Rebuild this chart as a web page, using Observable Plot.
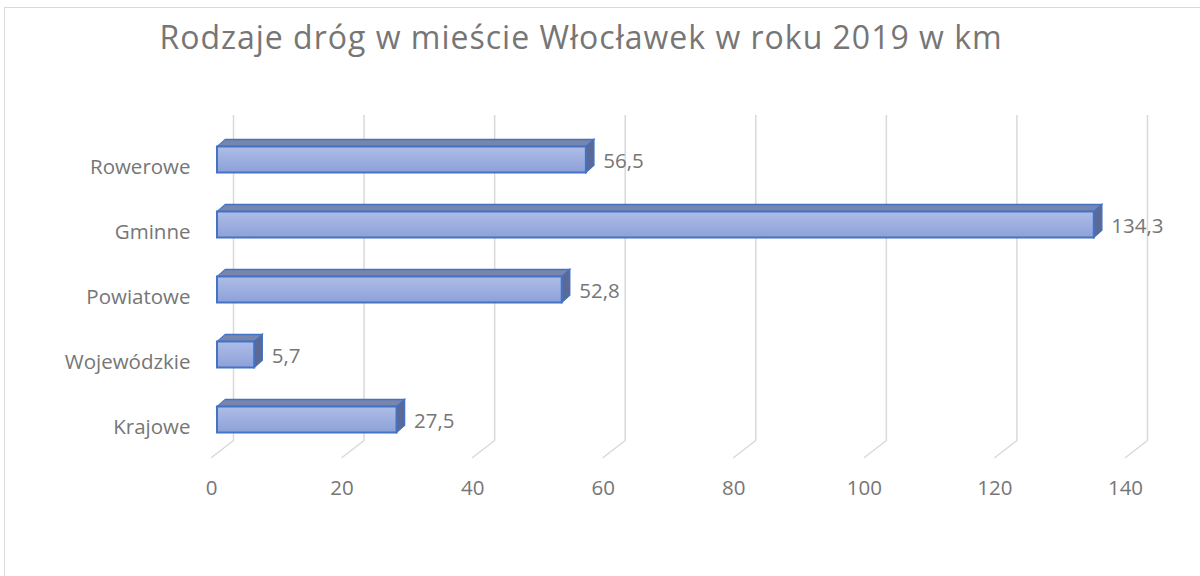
<!DOCTYPE html>
<html><head><meta charset="utf-8">
<script src="https://cdn.jsdelivr.net/npm/d3@7"></script>
<script src="https://cdn.jsdelivr.net/npm/@observablehq/plot@0.6"></script>
<style>
html,body{margin:0;padding:0;background:#fff;width:1200px;height:576px;overflow:hidden;font-family:"Open Sans",sans-serif;}
#border{position:absolute;left:4px;top:7px;width:1300px;height:700px;border-top:1px solid #d9d9d9;border-left:1px solid #d9d9d9;box-sizing:border-box;}
#title{position:absolute;left:0;top:0;width:1162px;height:80px;text-align:center;font-size:32px;letter-spacing:1px;line-height:74px;color:#767676;}
#chart{position:absolute;left:0;top:80px;}
</style></head>
<body>
<div id="border"></div>
<div id="title">Rodzaje dróg w mieście Włocławek w roku 2019 w km</div>
<div id="chart"></div>
<script>
const categories = ["Rowerowe", "Gminne", "Powiatowe", "Wojewódzkie", "Krajowe"];
const values = [56.5, 134.3, 52.8, 5.7, 27.5];
const ticks = [0, 20, 40, 60, 80, 100, 120, 140];

const data = categories.map((c, i) => ({category: c, value: values[i]}));
const fmt = v => v.toLocaleString("pl-PL", {minimumFractionDigits: 1, maximumFractionDigits: 1});

const defs = () => {
  const d = d3.create("svg:defs");
  const g = d.append("linearGradient").attr("id", "frontGrad").attr("x1", 0).attr("x2", 0).attr("y1", 0).attr("y2", 1);
  g.append("stop").attr("offset", "0%").attr("stop-color", "#aebde7");
  g.append("stop").attr("offset", "100%").attr("stop-color", "#8da1d8");
  return d.node();
};

const edge = {draw(context, l) { context.moveTo(0, 0); context.lineTo(0, -l); }};

const plot = Plot.plot({
  width: 1200,
  height: 496,
  marginLeft: 217,
  marginRight: 69,
  marginTop: 35,
  marginBottom: 136,
  style: {fontFamily: "'Open Sans', sans-serif", fontSize: "20px", color: "#767676", background: "transparent"},
  x: {domain: [0, 140], ticks: ticks, tickFormat: d => String(d), label: null},
  y: {domain: categories, range: [46.5, 371.5], padding: 0, label: null},
  marks: [
    defs,
    Plot.ruleX(ticks, {x: d => d, dx: 16, stroke: "#d9d9d9", strokeWidth: 1.5}),
    Plot.vector(ticks, {x: d => d, frameAnchor: "bottom", dx: 16, length: 27.8, rotate: 232.3, anchor: "start", shape: edge, stroke: "#d9d9d9", strokeWidth: 1.5}),
    Plot.axisX({ticks: ticks, tickSize: 0, tickPadding: 40, dx: -6, fill: "#767676", fontSize: 20.5, tickFormat: d => String(d), label: null}),
    Plot.axisY({tickSize: 0, tickPadding: 27, dy: 7, fill: "#767676", fontSize: 20.5, label: null}),
    // top faces
    Plot.barX(data, {x1: 0, x2: "value", y: "category", insetTop: 12.5, insetBottom: 45.5, fill: "#7886ad", stroke: "#4472c4", strokeWidth: 1.5, className: "topface"}),
    // side faces
    Plot.barX(data, {x1: "value", x2: "value", y: "category", insetTop: 19.5, insetBottom: 19.5, insetRight: -8, fill: "#5a6996", stroke: "#4472c4", strokeWidth: 1.5, className: "sideface"}),
    // front faces
    Plot.barX(data, {x1: 0, x2: "value", y: "category", insetTop: 19.5, insetBottom: 19.5, fill: "url(#frontGrad)", stroke: "#4472c4", strokeWidth: 2}),
    Plot.text(data, {x: "value", y: "category", text: d => fmt(d.value), textAnchor: "start", dx: 17, dy: 1.5, fill: "#767676", fontSize: 20.5})
  ]
});

d3.select(plot).selectAll(".topface rect")
  .style("transform-box", "fill-box").style("transform-origin", "bottom").style("transform", "skewX(-48.8deg)");
d3.select(plot).selectAll(".sideface rect")
  .style("transform-box", "fill-box").style("transform-origin", "left").style("transform", "skewY(-41.2deg)");

document.getElementById("chart").appendChild(plot);
</script>
</body></html>
